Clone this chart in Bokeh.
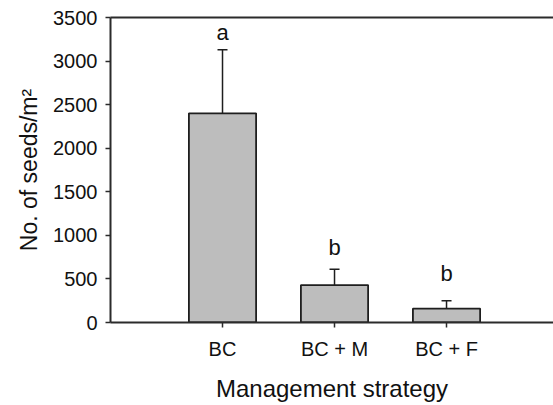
from bokeh.plotting import figure
from bokeh.models import (ColumnDataSource, Range1d, FixedTicker, LinearAxis,
                          Whisker, TeeHead)
from bokeh.core.properties import value
from bokeh.embed import file_html
from bokeh.resources import INLINE

# ---- data ----
categories = ["BC", "BC + M", "BC + F"]
positions = [1, 2, 3]
seeds_mean = [2400, 430, 160]
seeds_upper = [3130, 610, 250]
letters = ["a", "b", "b"]
letter_y = [3185, 715, 420]
y_ticks = [0, 500, 1000, 1500, 2000, 2500, 3000, 3500]

FONT = "Liberation Sans"
AXIS_COLOR = "#2b2b2b"

src = ColumnDataSource(dict(x=positions, top=seeds_mean, upper=seeds_upper,
                            lower=seeds_mean, letter=letters, ly=letter_y))

p = figure(width=553, height=405, output_backend="svg", toolbar_location=None,
           x_range=Range1d(0, 3.955), y_range=Range1d(0, 3500),
           min_border_left=110, min_border_right=0, min_border_top=17,
           min_border_bottom=83)
p.outline_line_color = None
p.grid.visible = False
p.background_fill_color = "white"
p.border_fill_color = "white"

p.vbar(x="x", top="top", width=0.6, bottom=0, source=src,
       fill_color="#bdbdbd", line_color="#1e1e1e", line_width=1.8)

wh = Whisker(source=src, base="x", upper="upper", lower="lower",
             line_color="#1e1e1e", line_width=1.5,
             upper_head=TeeHead(size=10, line_color="#1e1e1e", line_width=1.5),
             lower_head=None)
p.add_layout(wh)

p.text(x="x", y="ly", text="letter", source=src, text_align="center",
       text_baseline="bottom", text_font=value(FONT),
       text_font_size="22px", text_color="#111111")

# x axis
xa = p.xaxis[0]
xa.ticker = FixedTicker(ticks=positions)
xa.major_label_overrides = {pos: c for pos, c in zip(positions, categories)}
xa.axis_label = "Management strategy"
xa.minor_tick_line_color = None
xa.major_tick_in = 0
xa.major_tick_out = 5

# y axis
ya = p.yaxis[0]
ya.ticker = FixedTicker(ticks=y_ticks)
ya.axis_label = "No. of seeds/m²"
ya.minor_tick_line_color = None
ya.major_tick_in = 0
ya.major_tick_out = 5

for ax in (xa, ya):
    ax.axis_line_color = AXIS_COLOR
    ax.axis_line_width = 2
    ax.major_tick_line_color = AXIS_COLOR
    ax.major_tick_line_width = 1.5
    ax.major_label_text_font = FONT
    ax.major_label_text_font_size = "20px"
    ax.major_label_text_color = "#111111"
    ax.axis_label_text_font = FONT
    ax.axis_label_text_font_style = "normal"
    ax.axis_label_text_color = "#111111"

xa.axis_label_text_font_size = "24px"
ya.axis_label_text_font_size = "23px"
xa.major_label_standoff = 10
xa.axis_label_standoff = 12
ya.major_label_standoff = 8
ya.axis_label_standoff = 8

# top border line
top = LinearAxis(ticker=FixedTicker(ticks=[]), major_tick_out=0, major_tick_in=0,
                 minor_tick_out=0, minor_tick_in=0, major_label_standoff=0,
                 axis_line_color=AXIS_COLOR, axis_line_width=2,
                 major_label_text_font_size="0px")
p.add_layout(top, "above")

open("out.html", "w").write(file_html(p, INLINE))
